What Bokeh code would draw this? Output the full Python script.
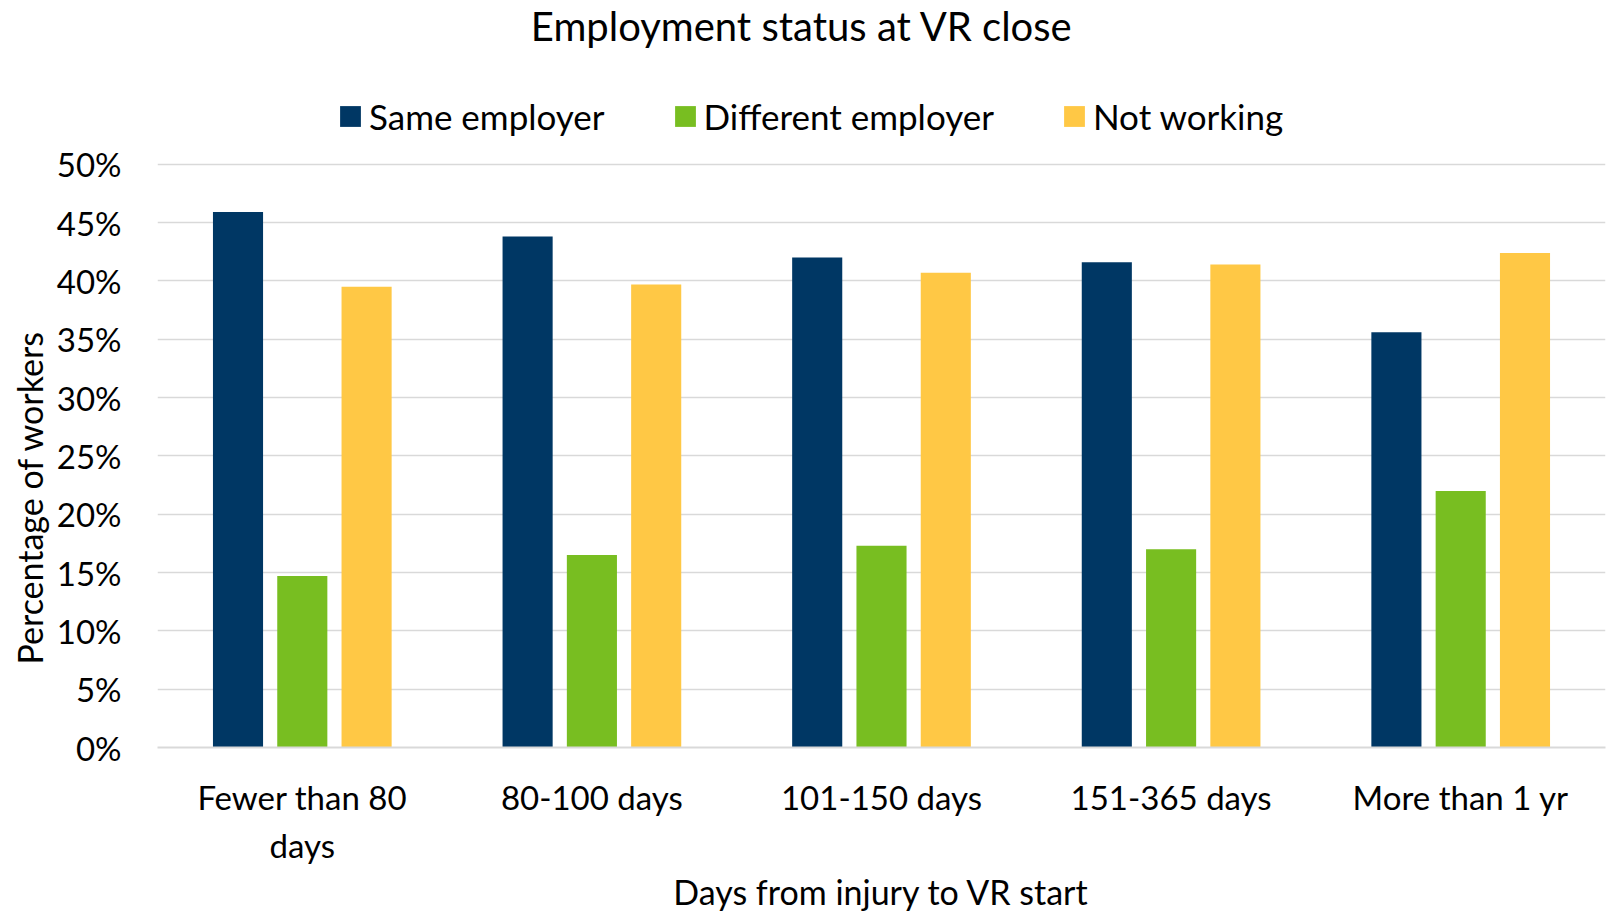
from bokeh.plotting import figure
from bokeh.models import (ColumnDataSource, FactorRange, Legend, LegendItem, Label, Title,
                          NumeralTickFormatter, FixedTicker)
from bokeh.transform import dodge
from bokeh.embed import file_html
from bokeh.resources import INLINE

categories = ["Fewer than 80\ndays", "80-100 days", "101-150 days", "151-365 days", "More than 1 yr"]
same_employer = [45.9, 43.8, 42.0, 41.6, 35.6]
different_employer = [14.7, 16.5, 17.3, 17.0, 22.0]
not_working = [39.5, 39.7, 40.7, 41.4, 42.4]
y_ticks = [0, 5, 10, 15, 20, 25, 30, 35, 40, 45, 50]

FONT = "Lato"
NAVY = "#003764"
GREEN = "#78BE21"
YELLOW = "#FFC845"
GRID = "#D9D9D9"

W, H = 1607, 914
LEFT, RIGHT, BOTTOM = 157, 2, 166
PX_PER_PCT = 11.68
frame_h = H - BOTTOM
y_end = frame_h / PX_PER_PCT / 100.0
cat_px = (W - LEFT - RIGHT) / len(categories)

src = ColumnDataSource(dict(
    cat=categories,
    same=[v / 100 for v in same_employer],
    diff=[v / 100 for v in different_employer],
    notw=[v / 100 for v in not_working],
))

p = figure(x_range=FactorRange(*categories, range_padding=0), y_range=(0, y_end),
           width=W, height=H, output_backend="svg", toolbar_location=None,
           min_border_left=LEFT, min_border_right=RIGHT,
           min_border_top=0, min_border_bottom=BOTTOM)

bw = 0.173
r1 = p.vbar(x=dodge("cat", -0.222, range=p.x_range), top="same", width=bw, source=src,
            fill_color=NAVY, line_color=None)
r2 = p.vbar(x=dodge("cat", 0.0, range=p.x_range), top="diff", width=bw, source=src,
            fill_color=GREEN, line_color=None)
r3 = p.vbar(x=dodge("cat", 0.222, range=p.x_range), top="notw", width=bw, source=src,
            fill_color=YELLOW, line_color=None)

legend = Legend(items=[LegendItem(label="Same employer", renderers=[r1]),
                       LegendItem(label="Different employer", renderers=[r2]),
                       LegendItem(label="Not working", renderers=[r3])],
                orientation="horizontal", location=(180, 610),
                label_text_font=FONT, label_text_font_size="35px", label_text_color="#000000",
                glyph_width=26, glyph_height=26, spacing=67, padding=0, margin=0,
                border_line_color=None, background_fill_alpha=0, label_standoff=6)
p.add_layout(legend, "center")

# chart title (placed in data space above the 50% line)
title_x = (801.5 - LEFT) / cat_px
title_y = (frame_h - 26) / PX_PER_PCT / 100.0
p.add_layout(Label(x=title_x, y=title_y, text="Employment status at VR close",
                   text_font=FONT, text_font_size="40px", text_color="#000000",
                   text_align="center", text_baseline="alphabetic"))

# y axis title, shifted toward the bottom like the original
p.add_layout(Title(text="Percentage of workers", align="left", offset=83, standoff=8,
                   text_font=FONT, text_font_size="34px", text_font_style="normal",
                   text_color="#000000"), "left")

p.outline_line_color = None
p.xgrid.grid_line_color = None
p.ygrid.grid_line_color = GRID
p.ygrid.grid_line_width = 1.5
p.yaxis.ticker = FixedTicker(ticks=[t / 100 for t in y_ticks])
p.yaxis.formatter = NumeralTickFormatter(format="0%")
p.yaxis.axis_line_color = None
p.yaxis.major_tick_line_color = None
p.yaxis.minor_tick_line_color = None
p.yaxis.major_label_standoff = 30
p.yaxis.major_label_text_font = FONT
p.yaxis.major_label_text_font_size = "33px"
p.yaxis.major_label_text_color = "#000000"

p.xaxis.axis_line_color = GRID
p.xaxis.axis_line_width = 2
p.xaxis.major_tick_line_color = None
p.xaxis.minor_tick_line_color = None
p.xaxis.major_label_standoff = 23
p.xaxis.major_label_text_font = FONT
p.xaxis.major_label_text_font_size = "33px"
p.xaxis.major_label_text_color = "#000000"
p.xaxis.axis_label = "Days from injury to VR start"
p.xaxis.axis_label_text_font = FONT
p.xaxis.axis_label_text_font_size = "34px"
p.xaxis.axis_label_text_font_style = "normal"
p.xaxis.axis_label_text_color = "#000000"
p.xaxis.axis_label_standoff = 3

open("out.html", "w").write(file_html(p, INLINE))
